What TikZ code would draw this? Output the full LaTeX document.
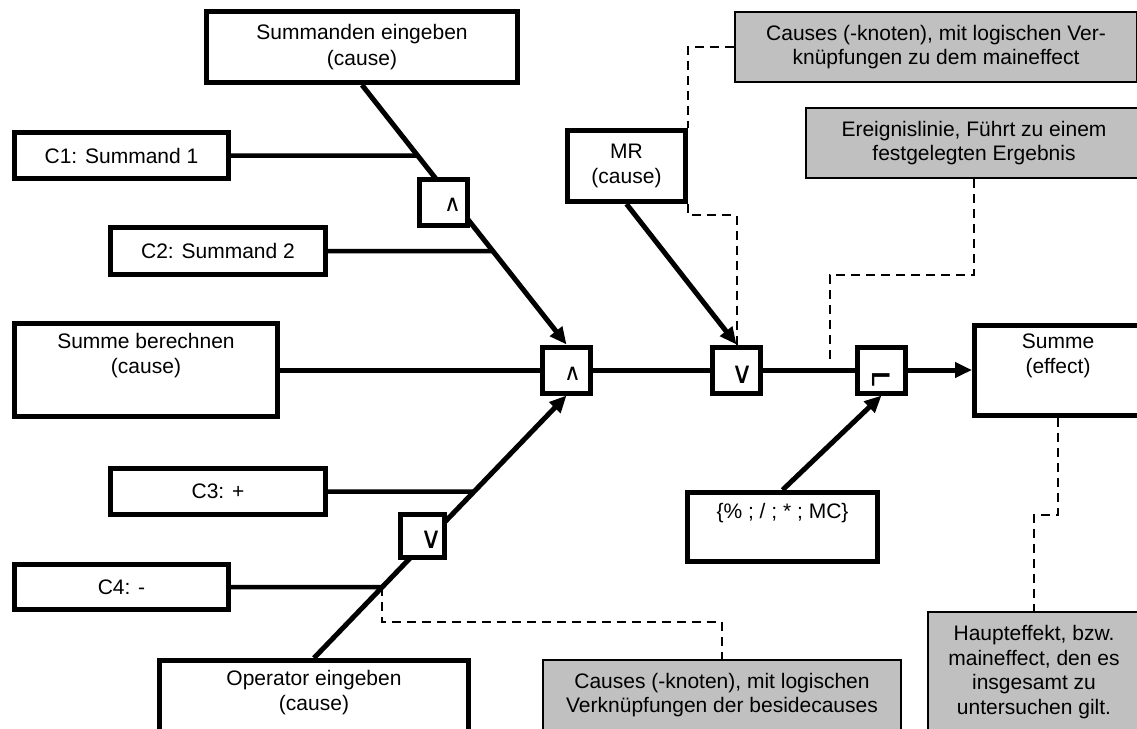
\documentclass[tikz,border=0pt]{standalone}
\usepackage{fontspec}
\setmainfont{Liberation Sans}
\newfontfamily\symfont{DejaVu Sans}
\usetikzlibrary{arrows.meta,backgrounds}
\definecolor{notegray}{RGB}{192,192,192}
\newcommand{\gsym}[3]{\hspace*{#1}\raisebox{#2}[0pt][0pt]{\symfont #3}}

\begin{document}
\begin{tikzpicture}[x=1pt,y=-1pt,
  cause/.style={draw, line width=5pt, fill=white, inner sep=0pt, align=center,
    font=\fontsize{21}{25.5}\selectfont},
  gate/.style={draw, line width=5pt, fill=white, inner sep=0pt,
    minimum width=48pt, minimum height=46pt},
  note/.style={draw, line width=1.8pt, fill=notegray, inner sep=0pt, align=center,
    font=\fontsize{21}{24.5}\selectfont},
  flow/.style={line width=5pt},
  branch/.style={line width=4.5pt},
  arr/.style={line width=5pt, -{Triangle[length=17pt,width=15pt]}},
  hint/.style={line width=2pt, dash pattern=on 9pt off 6pt}]
  \useasboundingbox (0,0) rectangle (1137,728);

  % causes
  \node[cause, minimum width=311pt, minimum height=71pt] (SumIn) at (362,47) {Summanden eingeben\\(cause)};
  \node[cause, minimum width=214pt, minimum height=46pt] (C1) at (121.5,155.5) {C1: Summand 1};
  \node[cause, minimum width=215pt, minimum height=47pt] (C2) at (218,251) {C2: Summand 2};
  \node[cause, minimum width=263pt, minimum height=93pt] (SumCalc) at (146,370) {Summe berechnen\\(cause)\\\strut};
  \node[cause, minimum width=215pt, minimum height=46pt] (C3) at (218,491.5) {C3: +};
  \node[cause, minimum width=214pt, minimum height=45pt] (C4) at (121.5,587) {C4: -};
  \node[cause, minimum width=309pt, minimum height=93pt] (OpIn) at (314,707) {Operator eingeben\\(cause)\\\strut};
  \node[cause, minimum width=118pt, minimum height=71pt] (MR) at (626.5,166) {MR\\(cause)};
  \node[cause, minimum width=190pt, minimum height=69pt] (Ops) at (782.5,527) {\{\% ; / ; * ; MC\}\\\strut};
  \node[cause, minimum width=167pt, minimum height=90pt] (Eff) at (1058,370) {Summe\\(effect)\\\strut};

  % gates
  \node[gate] (G1) at (443.5,202.5) {\gsym{18pt}{-9pt}{\fontsize{23}{23}\selectfont ∧}};
  \node[gate, minimum width=44pt, minimum height=43pt] (G2) at (422.5,536) {\gsym{18pt}{-12pt}{\fontsize{30}{30}\selectfont ∨}};
  \node[gate] (GA) at (566.5,370) {\gsym{12pt}{-10pt}{\fontsize{23}{23}\selectfont ∧}};
  \node[gate] (GV) at (736.5,370) {\gsym{11pt}{-13pt}{\fontsize{30}{30}\selectfont ∨}};
  \node[gate] (GN) at (881.5,370) {\gsym{0pt}{-22pt}{\scalebox{1}[1.6]{\fontsize{28}{28}\selectfont ⌐}}};

  % notes
  \node[note, minimum width=402pt, minimum height=70pt] (NTop) at (936,47) {Causes (-knoten), mit logischen Ver-\\knüpfungen zu dem maineffect};
  \node[note, minimum width=336pt, minimum height=70pt] (NEvt) at (974,143) {Ereignislinie, Führt zu einem\\festgelegten Ergebnis};
  \node[note, minimum width=358pt, minimum height=70pt] (NBes) at (722,695) {Causes (-knoten), mit logischen\\Verknüpfungen der besidecauses};
  \node[note, minimum width=212pt, minimum height=120pt] (NMain) at (1034,672) {Haupteffekt, bzw.\\maineffect, den es\\insgesamt zu\\untersuchen gilt.};

  \coordinate (J1) at (intersection of C1.west--C1.east and SumIn.south--GA.north);
  \coordinate (J2) at (intersection of C2.west--C2.east and SumIn.south--GA.north);
  \coordinate (J3) at (intersection of C3.west--C3.east and OpIn.north--GA.south);
  \coordinate (J4) at (intersection of C4.west--C4.east and OpIn.north--GA.south);
  \coordinate (Evt) at (830,364);

  \begin{scope}[on background layer]
    \draw[arr] (SumIn.south) -- (GA.north);
    \draw[arr] (OpIn.north) -- (GA.south);
    \draw[arr] (MR.south) -- (GV.north);
    \draw[arr] (Ops.north) -- (GN.south);
    \draw[branch] (C1.east) -- (J1);
    \draw[branch] (C2.east) -- (J2);
    \draw[branch] (C3.east) -- (J3);
    \draw[branch] (C4.east) -- (J4);
    \draw[flow] (SumCalc.east) -- (GA.west);
    \draw[flow] (GA.east) -- (GV.west);
    \draw[flow] (GV.east) -- (GN.west);
    \draw[arr] (GN.east) -- (Eff.west);

    \draw[hint] (NTop.west) -| (MR.north east);
    \draw[hint] (MR.south east) -- ++(0,11) -| (GV.north);
    \draw[hint] (NEvt.south) -- ++(0,96) -| (Evt);
    \draw[hint] (J4) -- ++(0,35) -| (NBes.north);
    \draw[hint] (Eff.south) -- ++(0,97) -| (NMain.north);
  \end{scope}
\end{tikzpicture}
\end{document}
